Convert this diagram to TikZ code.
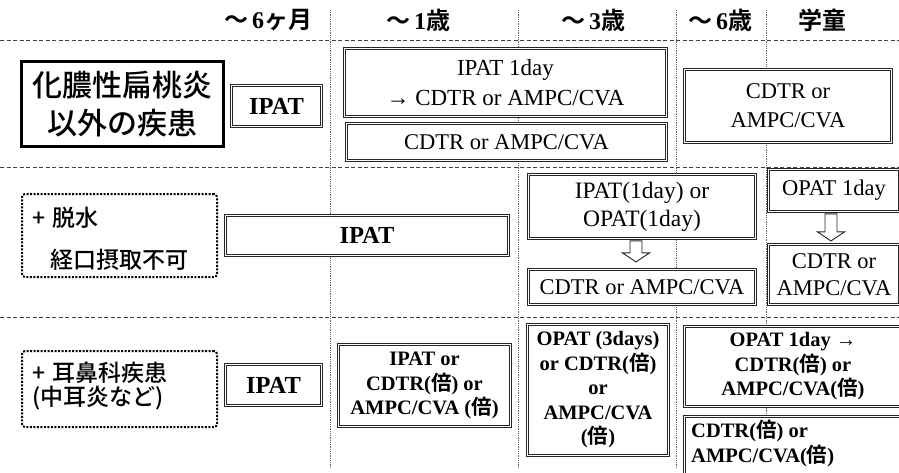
\documentclass[tikz,border=0pt]{standalone}
\usepackage{fontspec}
\setmainfont{Liberation Serif}
\newfontfamily\jp{Noto Sans CJK JP}[BoldFont={Noto Sans CJK JP Bold}]
\newfontfamily\jpm{Noto Sans CJK JP Medium}
\usetikzlibrary{calc}
\tikzset{
 dbox/.style={draw=black!85, line width=0.8pt, double=white, double distance=1.3pt, fill=white, inner sep=0pt, align=center},
 rtext/.style={font=\fontsize{22.5}{29}\selectfont},
 btext/.style={font=\bfseries\fontsize{20.5}{24.5}\selectfont},
 ipat/.style={font=\bfseries\fontsize{24.5}{26}\selectfont},
 hdr/.style={font=\bfseries\fontsize{24}{24}\selectfont, inner sep=0pt},
 lbl/.style={draw=black, line width=2pt, dash pattern=on 2pt off 1.5pt, rounded corners=3pt, inner sep=0pt},
 lbltext/.style={font=\jpm\fontsize{23}{23}\selectfont, anchor=west, inner sep=0pt},
 sep/.style={draw=black!75, line width=0.9pt, dash pattern=on 4pt off 2.5pt},
 col/.style={draw=black!60, line width=0.8pt, densely dotted},
 harrow/.style={draw=black!85, line width=0.9pt, fill=white, line join=miter},
}
\begin{document}
\begin{tikzpicture}[x=1pt,y=-1pt]
\useasboundingbox (0,0) rectangle (899,472);
% grid lines
\foreach \xx in {330,518,676,766} \draw[col] (\xx,10) -- (\xx,468);
\foreach \yy in {40,167,317} \draw[sep] (0,\yy) -- (899,\yy);
% header
\node[hdr] (h1) at (268,20) {{\jp ～}\,6{\jp ヶ月}};
\node[hdr] (h2) at (418,20) {{\jp ～}\,1{\jp 歳}};
\node[hdr] (h3) at (593,20) {{\jp ～}\,3{\jp 歳}};
\node[hdr] (h4) at (720,20) {{\jp ～}\,6{\jp 歳}};
\node[hdr] (h5) at (822,20) {{\jp 学童}};
% row 1
\node[draw=black, line width=2.6pt, fill=white, inner sep=0pt, minimum width=202.4pt, minimum height=85.4pt,
  align=center, font=\jpm\fontsize{30}{38}\selectfont] (l1) at (122.5,104) {化膿性扁桃炎\\以外の疾患};
\node[dbox, ipat, minimum width=90pt, minimum height=41pt] (r1a) at (276.5,106) {IPAT};
\node[dbox, rtext, font=\fontsize{23}{30}\selectfont, minimum width=322pt, minimum height=68pt] (r1b) at (505.5,82.5) {IPAT 1day\\→ CDTR or AMPC/CVA};
\node[dbox, rtext, minimum width=320pt, minimum height=37pt] (r1c) at (506.5,142) {CDTR or AMPC/CVA};
\node[dbox, rtext, minimum width=207pt, minimum height=73pt] (r1d) at (788,106) {CDTR or\\AMPC/CVA};
% row 2
\node[lbl, minimum width=195pt, minimum height=83pt] (l2) at (119.5,235.5) {};
\node[lbltext] (l2a) at (32,218) {+\hspace{7pt}脱水};
\node[lbltext] (l2b) at (50,260) {経口摂取不可};
\node[dbox, ipat, minimum width=283pt, minimum height=40pt] (r2a) at (367,235.5) {IPAT};
\node[dbox, font=\fontsize{23.5}{28}\selectfont, minimum width=227pt, minimum height=64pt] (r2b) at (642,206.5) {IPAT(1day) or\\OPAT(1day)};
\node[dbox, rtext, minimum width=227pt, minimum height=35pt] (r2c) at (642,287) {CDTR or AMPC/CVA};
\node[dbox, rtext, minimum width=131pt, minimum height=42pt] (r2d) at (834,190.5) {OPAT 1day};
\node[dbox, font=\fontsize{22.5}{27}\selectfont, minimum width=131pt, minimum height=60pt] (r2e) at (834,274.5) {CDTR or\\AMPC/CVA};
% hollow arrows between boxes
\coordinate (a1) at ($(r2b.south)+(-6,2)$);
\draw[harrow] (a1) ++(-6,0) -- ++(12,0) -- ++(0,12) -- ++(7.5,0) -- ++(-13.5,9) -- ++(-13.5,-9) -- ++(7.5,0) -- cycle;
\coordinate (a2) at ($(r2d.south)+(-3,2)$);
\draw[harrow] (a2) ++(-6,0) -- ++(12,0) -- ++(0,18) -- ++(7.5,0) -- ++(-13.5,9) -- ++(-13.5,-9) -- ++(7.5,0) -- cycle;
% row 3
\node[lbl, minimum width=195pt, minimum height=76pt] (l3) at (119.5,389) {};
\node[lbltext] (l3a) at (32,373) {+\hspace{7pt}耳鼻科疾患};
\node[lbltext] (l3b) at (32,398) {(中耳炎など)};
\node[dbox, ipat, minimum width=96pt, minimum height=41pt] (r3a) at (273.5,385) {IPAT};
\node[dbox, btext, minimum width=172pt, minimum height=82pt] (r3b) at (424.5,385.5) {IPAT or\\CDTR({\jp 倍}) or\\AMPC/CVA ({\jp 倍})};
\node[dbox, btext, minimum width=141pt, minimum height=131pt] (r3c) at (598,390) {OPAT (3days)\\or CDTR({\jp 倍})\\or\\AMPC/CVA\\({\jp 倍})};
\node[dbox, btext, minimum width=217pt, minimum height=80pt] (r3d) at (793,366.5) {OPAT 1day →\\CDTR({\jp 倍}) or\\AMPC/CVA({\jp 倍})};
\node[dbox, minimum width=217pt, minimum height=72pt] (r3e) at (793,452.5) {};
\node[btext, anchor=west, align=left, inner sep=0pt] (r3et) at (691,443.5) {CDTR({\jp 倍}) or\\AMPC/CVA({\jp 倍})};
\end{tikzpicture}
\end{document}
